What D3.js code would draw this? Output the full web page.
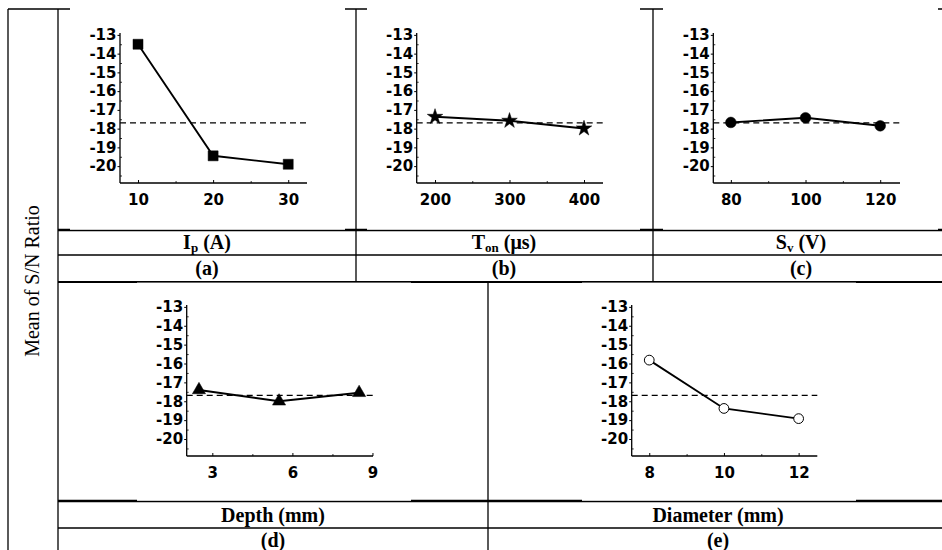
<!DOCTYPE html>
<html><head><meta charset="utf-8">
<script src="https://cdn.jsdelivr.net/npm/d3@7"></script>
<style>body{margin:0;background:#fff}svg{display:block}</style>
</head><body>
<svg id="c" width="942" height="550"></svg>
<script>
// ---- data ----
const meanSN = -17.69;
const yTicks = [-13,-14,-15,-16,-17,-18,-19,-20];
const ipLevels = [10,20,30];
const ipSN = [-13.5,-19.45,-19.9];
const tonLevels = [200,300,400];
const tonSN = [-17.37,-17.58,-17.99];
const svLevels = [80,100,120];
const svSN = [-17.67,-17.42,-17.85];
const depthLevels = [2.5,5.5,8.5];
const depthTicks = [3,6,9];
const depthSN = [-17.4,-18.0,-17.55];
const diaLevels = [8,10,12];
const diaSN = [-15.82,-18.38,-18.92];
const captions = ["(a)","(b)","(c)","(d)","(e)"];

const svg = d3.select("#c");
const line = (x1,y1,x2,y2,w) => svg.append("line").attr("x1",x1).attr("y1",y1).attr("x2",x2).attr("y2",y2)
  .attr("stroke","#000").attr("stroke-width",w||1.3);

// table grid
const R = 948;
line(8,9,8,550); line(58,9,58,550);
line(8,9,R,9);
line(58,230,R,230,2.4); line(58,255,R,255);
line(58,282,R,282,2.2);
line(356,9,356,282); line(653,9,653,282);
line(488,282,488,550);
line(58,501,R,501,2.4); line(58,528,R,528);

// pasted "image" areas (white)
const imgs = [[70,0,345,229.8],[367,0,640,229.8],[663,0,938,229.8],[137,282.6,411,500.8],[582,282.6,856,500.8]];
imgs.forEach(r=>svg.append("rect").attr("x",r[0]).attr("y",r[1]).attr("width",r[2]-r[0]).attr("height",r[3]-r[1]).attr("fill","#fff"));

const serif = "'Liberation Serif','Times New Roman',Times,serif";
// y label
svg.append("text").attr("transform","translate(39,281) rotate(-90)").attr("text-anchor","middle")
  .style("font-family",serif).style("font-size","20px").text("Mean of S/N Ratio");

// captions
function caption(cx, cy, main, sub, rest){
  const t = svg.append("text").attr("x",cx).attr("y",cy).attr("text-anchor","middle")
    .style("font-family",serif).style("font-size","20px").style("font-weight","bold");
  t.append("tspan").text(main);
  if(sub){ t.append("tspan").style("font-size","13px").attr("dy",3).text(sub);
           t.append("tspan").attr("dy",-3).text(rest); }
}
caption(207,249,"I","p"," (A)");
caption(504,249,"T","on"," (μs)");
caption(801,249,"S","v"," (V)");
caption(273,522,"Depth (mm)");
caption(718,522,"Diameter (mm)");
[[207,275],[504,275],[801,275],[273,547],[718,547]].forEach((p,i)=>
  svg.append("text").attr("x",p[0]).attr("y",p[1]).attr("text-anchor","middle").style("font-family",serif)
   .style("font-size","20px").style("font-weight","bold").text(captions[i]));

const tickFont = "'DejaVu Sans',sans-serif";
const fmt = d => String(d);

function panel(opt){
  const g = svg.append("g");
  const x = d3.scaleLinear().domain(opt.xd).range(opt.xr);
  const y = d3.scaleLinear().domain([-20.9,-12.9]).range(opt.yr);
  const x0 = opt.xr[0], y0 = opt.yr[0];
  // y axis
  const ya = g.append("g").attr("transform",`translate(${x0},0)`)
    .call(d3.axisLeft(y).tickValues(yTicks).tickSize(2.5).tickPadding(1).tickFormat(fmt));
  ya.select(".domain").remove();
  ya.selectAll("text").style("font-family",tickFont).style("font-size","15px").style("font-weight","bold").attr("fill","#000");
  ya.selectAll("line").attr("stroke-width",1);
  const yminor = g.append("g").attr("transform",`translate(${x0},0)`)
    .call(d3.axisRight(y).tickValues(yTicks.map(v=>v-0.5)).tickSize(2).tickFormat(""));
  yminor.select(".domain").remove();
  yminor.selectAll("line").attr("stroke-width",0.8);
  // x axis
  const xa = g.append("g").attr("transform",`translate(0,${y0})`)
    .call(d3.axisBottom(x).tickValues(opt.xt).tickSize(-3).tickPadding(11).tickFormat(fmt));
  xa.select(".domain").remove();
  xa.selectAll("text").style("font-family",tickFont).style("font-size","15px").style("font-weight","bold").attr("fill","#000");
  xa.selectAll("line").attr("stroke-width",1);
  const xminor = g.append("g").attr("transform",`translate(0,${y0})`)
    .call(d3.axisBottom(x).tickValues(opt.xm).tickSize(-2).tickFormat(""));
  xminor.select(".domain").remove();
  xminor.selectAll("line").attr("stroke-width",0.8);
  // axis lines
  g.append("line").attr("x1",x0).attr("x2",x0).attr("y1",opt.yr[1]).attr("y2",y0).attr("stroke","#000").attr("stroke-width",1.3);
  g.append("line").attr("x1",x0).attr("x2",opt.xr[1]).attr("y1",y0).attr("y2",y0).attr("stroke","#000").attr("stroke-width",1.3);
  // mean line
  g.append("line").attr("x1",x0).attr("x2",opt.xr[1]).attr("y1",y(meanSN)).attr("y2",y(meanSN))
    .attr("stroke","#000").attr("stroke-width",1.2).attr("stroke-dasharray","6,4");
  // data line
  const pts = opt.xs.map((v,i)=>[x(v),y(opt.ys[i])]);
  g.append("path").attr("d",d3.line()(pts)).attr("fill","none").attr("stroke","#000").attr("stroke-width",1.9);
  // markers
  g.selectAll(".m").data(pts).enter().append("path")
    .attr("transform",d=>`translate(${d[0]},${d[1]})`)
    .attr("d",d3.symbol().type(opt.sym).size(opt.size))
    .attr("fill",opt.open?"#fff":"#000").attr("stroke","#000").attr("stroke-width",opt.open?1:0.5);
}

panel({xd:[7.6,32.5],xr:[120,307],yr:[183,33],xt:ipLevels,xm:[15,25],xs:ipLevels,ys:ipSN,sym:d3.symbolSquare,size:100});
panel({xd:[175.4,425.5],xr:[416.7,603],yr:[183,33],xt:tonLevels,xm:[250,350],xs:tonLevels,ys:tonSN,sym:d3.symbolStar,size:75});
panel({xd:[75.3,125.3],xr:[713.3,900],yr:[183,33],xt:svLevels,xm:[90,110],xs:svLevels,ys:svSN,sym:d3.symbolCircle,size:90});
panel({xd:[2.04,9.02],xr:[186.7,373],yr:[456,305],xt:depthTicks,xm:[4.5,7.5],xs:depthLevels,ys:depthSN,sym:d3.symbolTriangle,size:75});
panel({xd:[7.53,12.5],xr:[631.7,817.3],yr:[456,305],xt:diaLevels,xm:[9,11],xs:diaLevels,ys:diaSN,sym:d3.symbolCircle,size:75,open:true});
</script>
</body></html>
